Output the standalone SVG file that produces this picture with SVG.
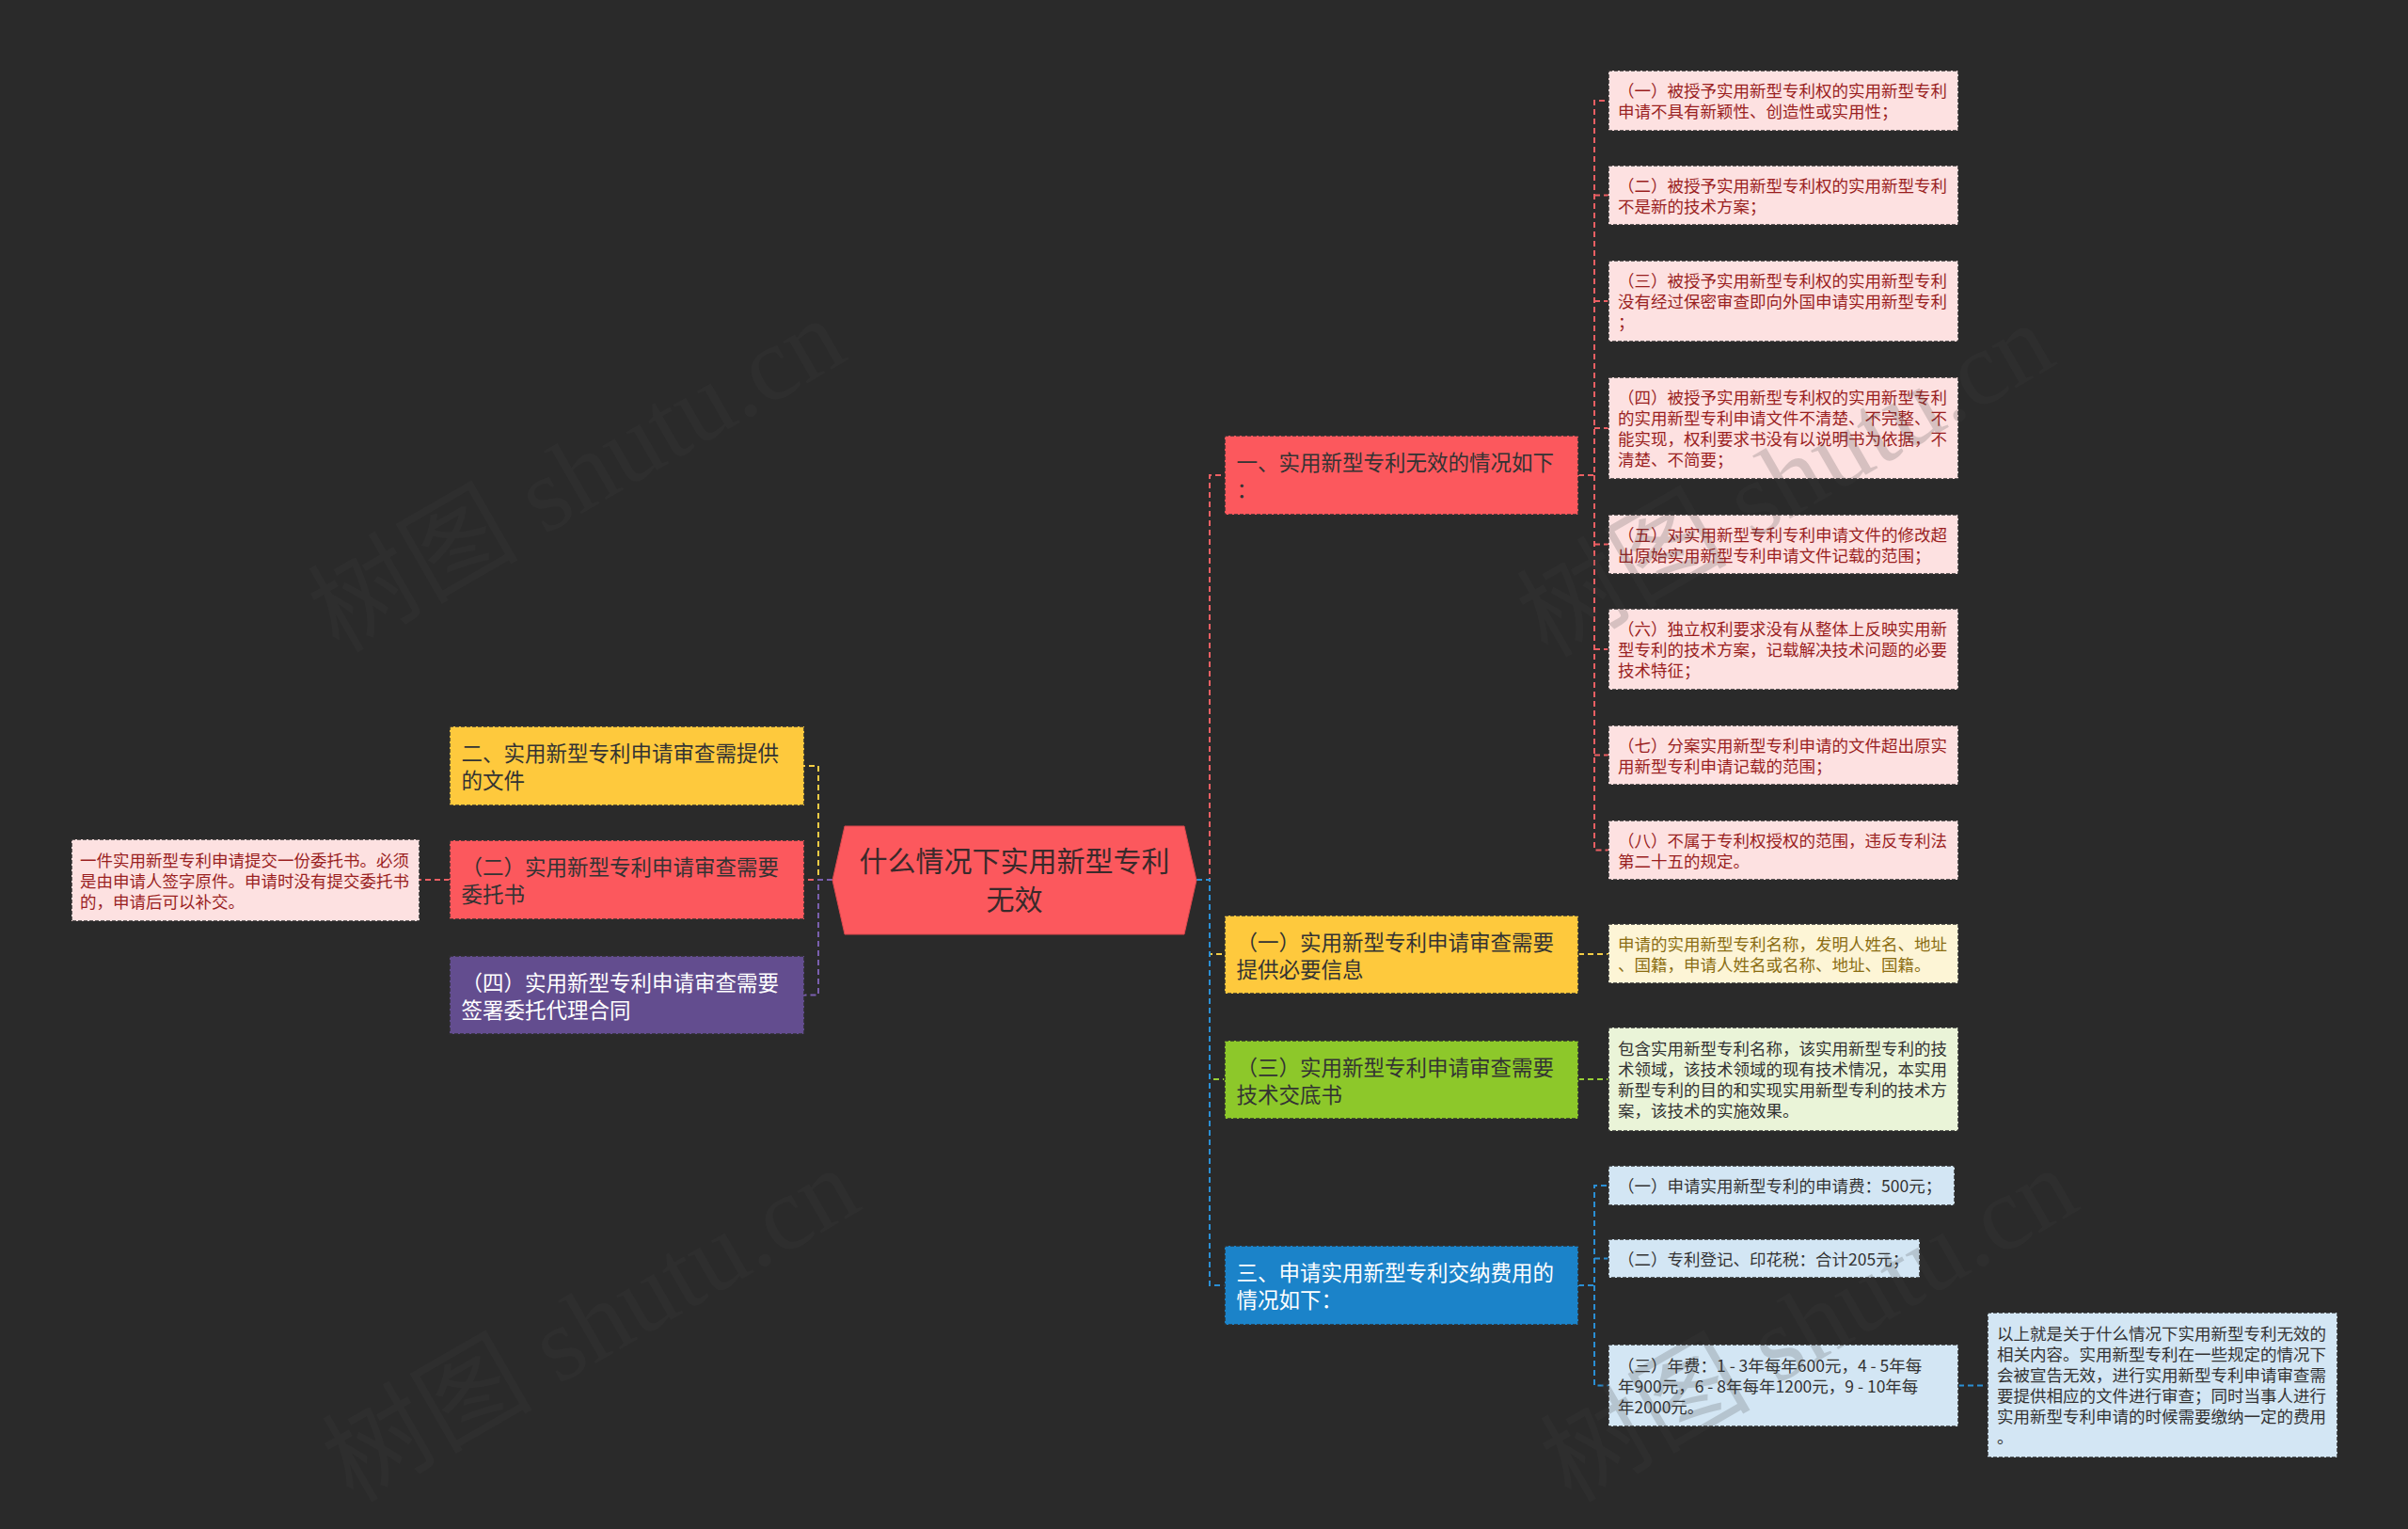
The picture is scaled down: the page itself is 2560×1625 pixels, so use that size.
<svg xmlns="http://www.w3.org/2000/svg" width="2560" height="1625" viewBox="0 0 2560 1625">
<style>
text{font-family:"Noto Sans CJK SC","Microsoft YaHei",sans-serif;}
.box{stroke:#2e2e2e;stroke-width:1.5;stroke-dasharray:4 2;}
.l1{font-size:22.5px;}
.lf{font-size:17.5px;}
.dk{fill:#333333;}
.wt{fill:#ffffff;}
.pk{fill:#fde1e1;}
.pkt{fill:#9a1f1f;}
.conn path{fill:none;stroke-width:2;stroke-dasharray:6 4;}
.cr{stroke:#ec5f63;}
.cy{stroke:#f3cd45;}
.cg{stroke:#98cf36;}
.cb{stroke:#2a8fd5;}
.cp{stroke:#7a5fae;}
.wm{font-family:"Liberation Serif","Noto Sans CJK SC",serif;font-size:112px;fill:#404040;opacity:0.2;}
</style>
<rect x="0" y="0" width="2560" height="1625" fill="#2a2a2a"/>

<g id="connectors" class="conn">
  <path class="cr" d="M1272,935 H1286 V505 H1302"/>
  <path class="cy" d="M1272,935 H1286 V1014 H1302"/>
  <path class="cg" d="M1272,935 H1286 V1147 H1302"/>
  <path class="cb" d="M1272,935 H1286 V1366 H1302"/>
  <path class="cr" d="M1678,505 H1695 V107 H1710 M1695,207.5 H1710 M1695,320 H1710 M1695,455 H1710 M1695,578.5 H1710 M1695,690 H1710 M1695,802.5 H1710 M1695,505 V903.5 H1710"/>
  <path class="cy" d="M1678,1014 H1710"/>
  <path class="cg" d="M1678,1147 H1710"/>
  <path class="cb" d="M1678,1366 H1695 V1260 H1710 M1695,1337.5 H1710 M1695,1366 V1472.5 H1710"/>
  <path class="cb" d="M2082,1472.5 H2113"/>
  <path class="cy" d="M885,935 H870 V814 H855"/>
  <path class="cr" d="M885,935 H855"/>
  <path class="cp" d="M885,935 H870 V1057.5 H855"/>
  <path class="cr" d="M478,935 H446"/>
</g>

<g id="root">
  <polygon points="898,878 1259,878 1272,935.5 1259,993 898,993 885,935.5" fill="#fc585d" stroke="#d9474c" stroke-width="1"/>
  <text x="1078.5" y="926" font-size="30" text-anchor="middle" fill="#3a2a2b">什么情况下实用新型专利</text>
  <text x="1078.5" y="967" font-size="30" text-anchor="middle" fill="#3a2a2b">无效</text>
</g>

<g id="n-invalid">
  <rect class="box" x="1302" y="463" width="376" height="84" fill="#fc585d"/>
  <text class="l1 dk" x="1314.5" y="500">一、实用新型专利无效的情况如下</text>
  <text class="l1 dk" x="1314.5" y="529">：</text>
</g>
<g id="leaf-1">
  <rect class="box pk" x="1710" y="75" width="372" height="64"/>
  <text class="lf pkt" x="1720" y="103">（一）被授予实用新型专利权的实用新型专利</text>
  <text class="lf pkt" x="1720" y="125">申请不具有新颖性、创造性或实用性；</text>
</g>
<g id="leaf-2">
  <rect class="box pk" x="1710" y="176" width="372" height="63"/>
  <text class="lf pkt" x="1720" y="203.5">（二）被授予实用新型专利权的实用新型专利</text>
  <text class="lf pkt" x="1720" y="225.5">不是新的技术方案；</text>
</g>
<g id="leaf-3">
  <rect class="box pk" x="1710" y="277" width="372" height="86"/>
  <text class="lf pkt" x="1720" y="305">（三）被授予实用新型专利权的实用新型专利</text>
  <text class="lf pkt" x="1720" y="327">没有经过保密审查即向外国申请实用新型专利</text>
  <text class="lf pkt" x="1720" y="349">；</text>
</g>
<g id="leaf-4">
  <rect class="box pk" x="1710" y="401" width="372" height="108"/>
  <text class="lf pkt" x="1720" y="429">（四）被授予实用新型专利权的实用新型专利</text>
  <text class="lf pkt" x="1720" y="451">的实用新型专利申请文件不清楚、不完整、不</text>
  <text class="lf pkt" x="1720" y="473">能实现，权利要求书没有以说明书为依据，不</text>
  <text class="lf pkt" x="1720" y="495">清楚、不简要；</text>
</g>
<g id="leaf-5">
  <rect class="box pk" x="1710" y="547" width="372" height="63"/>
  <text class="lf pkt" x="1720" y="574.5">（五）对实用新型专利专利申请文件的修改超</text>
  <text class="lf pkt" x="1720" y="596.5">出原始实用新型专利申请文件记载的范围；</text>
</g>
<g id="leaf-6">
  <rect class="box pk" x="1710" y="647" width="372" height="86"/>
  <text class="lf pkt" x="1720" y="675">（六）独立权利要求没有从整体上反映实用新</text>
  <text class="lf pkt" x="1720" y="697">型专利的技术方案，记载解决技术问题的必要</text>
  <text class="lf pkt" x="1720" y="719">技术特征；</text>
</g>
<g id="leaf-7">
  <rect class="box pk" x="1710" y="771" width="372" height="63"/>
  <text class="lf pkt" x="1720" y="798.5">（七）分案实用新型专利申请的文件超出原实</text>
  <text class="lf pkt" x="1720" y="820.5">用新型专利申请记载的范围；</text>
</g>
<g id="leaf-8">
  <rect class="box pk" x="1710" y="872" width="372" height="63"/>
  <text class="lf pkt" x="1720" y="899.5">（八）不属于专利权授权的范围，违反专利法</text>
  <text class="lf pkt" x="1720" y="921.5">第二十五的规定。</text>
</g>

<g id="n-info">
  <rect class="box" x="1302" y="973" width="376" height="83" fill="#fec93d"/>
  <text class="l1 dk" x="1314.5" y="1009.5">（一）实用新型专利申请审查需要</text>
  <text class="l1 dk" x="1314.5" y="1038.5">提供必要信息</text>
</g>
<g id="leaf-info">
  <rect class="box" x="1710" y="982" width="372" height="63" fill="#fdf5d6"/>
  <text class="lf" fill="#8b6d12" x="1720" y="1009.5">申请的实用新型专利名称，发明人姓名、地址</text>
  <text class="lf" fill="#8b6d12" x="1720" y="1031.5">、国籍，申请人姓名或名称、地址、国籍。</text>
</g>

<g id="n-tech">
  <rect class="box" x="1302" y="1106" width="376" height="83" fill="#8dc82a"/>
  <text class="l1 dk" x="1314.5" y="1142.5">（三）实用新型专利申请审查需要</text>
  <text class="l1 dk" x="1314.5" y="1171.5">技术交底书</text>
</g>
<g id="leaf-tech">
  <rect class="box" x="1710" y="1092" width="372" height="110" fill="#eaf4d8"/>
  <text class="lf dk" x="1720" y="1121">包含实用新型专利名称，该实用新型专利的技</text>
  <text class="lf dk" x="1720" y="1143">术领域，该技术领域的现有技术情况，本实用</text>
  <text class="lf dk" x="1720" y="1165">新型专利的目的和实现实用新型专利的技术方</text>
  <text class="lf dk" x="1720" y="1187">案，该技术的实施效果。</text>
</g>

<g id="n-fee">
  <rect class="box" x="1302" y="1324" width="376" height="84" fill="#1b83c9"/>
  <text class="l1 wt" x="1314.5" y="1361">三、申请实用新型专利交纳费用的</text>
  <text class="l1 wt" x="1314.5" y="1390">情况如下：</text>
</g>
<g id="fee-1">
  <rect class="box" x="1710" y="1239" width="368" height="42" fill="#d3e6f4"/>
  <text class="lf dk" x="1720" y="1267">（一）申请实用新型专利的申请费：500元；</text>
</g>
<g id="fee-2">
  <rect class="box" x="1710" y="1317" width="331" height="41" fill="#d3e6f4"/>
  <text class="lf dk" x="1720" y="1344.5">（二）专利登记、印花税：合计205元；</text>
</g>
<g id="fee-3">
  <rect class="box" x="1710" y="1429" width="372" height="87" fill="#d3e6f4"/>
  <text class="lf dk" x="1720" y="1457.5">（三）年费：1 - 3年每年600元，4 - 5年每</text>
  <text class="lf dk" x="1720" y="1479.5">年900元，6 - 8年每年1200元，9 - 10年每</text>
  <text class="lf dk" x="1720" y="1501.5">年2000元。</text>
</g>
<g id="summary">
  <rect class="box" x="2113" y="1395" width="372" height="154" fill="#d3e6f4"/>
  <text class="lf dk" x="2123" y="1424">以上就是关于什么情况下实用新型专利无效的</text>
  <text class="lf dk" x="2123" y="1446">相关内容。实用新型专利在一些规定的情况下</text>
  <text class="lf dk" x="2123" y="1468">会被宣告无效，进行实用新型专利申请审查需</text>
  <text class="lf dk" x="2123" y="1490">要提供相应的文件进行审查；同时当事人进行</text>
  <text class="lf dk" x="2123" y="1512">实用新型专利申请的时候需要缴纳一定的费用</text>
  <text class="lf dk" x="2123" y="1534">。</text>
</g>

<g id="n-docs">
  <rect class="box" x="478" y="772" width="377" height="84" fill="#fec93d"/>
  <text class="l1 dk" x="490.5" y="809">二、实用新型专利申请审查需提供</text>
  <text class="l1 dk" x="490.5" y="838">的文件</text>
</g>
<g id="n-proxy">
  <rect class="box" x="478" y="893" width="377" height="84" fill="#fc585d"/>
  <text class="l1 dk" x="490.5" y="930">（二）实用新型专利申请审查需要</text>
  <text class="l1 dk" x="490.5" y="959">委托书</text>
</g>
<g id="leaf-proxy">
  <rect class="box pk" x="76" y="892" width="370" height="87"/>
  <text class="lf pkt" x="85" y="920.5">一件实用新型专利申请提交一份委托书。必须</text>
  <text class="lf pkt" x="85" y="942.5">是由申请人签字原件。申请时没有提交委托书</text>
  <text class="lf pkt" x="85" y="964.5">的，申请后可以补交。</text>
</g>
<g id="n-contract">
  <rect class="box" x="478" y="1016" width="377" height="83" fill="#634d8f"/>
  <text class="l1 wt" x="490.5" y="1052.5">（四）实用新型专利申请审查需要</text>
  <text class="l1 wt" x="490.5" y="1081.5">签署委托代理合同</text>
</g>

<g id="watermarks">
  <text class="wm" transform="translate(360,695) rotate(-30)">树图 shutu.cn</text>
  <text class="wm" transform="translate(1645,700) rotate(-30)">树图 shutu.cn</text>
  <text class="wm" transform="translate(375,1598) rotate(-30)">树图 shutu.cn</text>
  <text class="wm" transform="translate(1670,1598) rotate(-30)">树图 shutu.cn</text>
</g>
</svg>
